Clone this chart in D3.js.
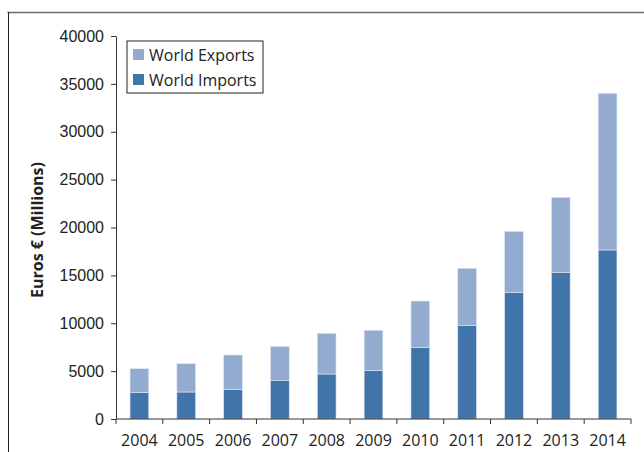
<!DOCTYPE html>
<html>
<head>
<meta charset="utf-8">
<script src="https://cdn.jsdelivr.net/npm/d3@7"></script>
<style>
  body { margin: 0; background: #fff; }
  svg { font-family: "Open Sans", Lato, sans-serif; }
</style>
</head>
<body>
<div id="chart"></div>
<script>
// chart data
const years = ["2004", "2005", "2006", "2007", "2008", "2009", "2010", "2011", "2012", "2013", "2014"];
const worldImports = [2750, 2820, 3060, 4000, 4700, 5050, 7450, 9750, 13230, 15280, 17650];
const worldTotals = [5250, 5780, 6680, 7590, 8950, 9270, 12320, 15740, 19600, 23150, 34020];
const worldExports = worldTotals.map((t, i) => t - worldImports[i]);
const yTicks = [0, 5000, 10000, 15000, 20000, 25000, 30000, 35000, 40000];
const seriesNames = ["World Exports", "World Imports"];

var W = 644, H = 452;
var margin = { top: 36, right: 13, bottom: 33, left: 116 },
    width = W - margin.left - margin.right,
    height = H - margin.top - margin.bottom;

var root = d3.select("#chart").append("svg")
    .attr("width", W)
    .attr("height", H);

// outer frame
root.append("line")
    .attr("x1", 7.5).attr("x2", W).attr("y1", 12.5).attr("y2", 12.5)
    .attr("stroke", "#6b6b6b").attr("stroke-width", 1.5);
root.append("line")
    .attr("x1", 8.5).attr("x2", 8.5).attr("y1", 12).attr("y2", H)
    .attr("stroke", "#222").attr("stroke-width", 1);

var svg = root.append("g")
    .attr("transform", `translate(${margin.left}, ${margin.top})`);

var x = d3.scaleBand()
    .domain(years)
    .range([0, width])
    .paddingInner(0.6)
    .paddingOuter(0.3);

var y = d3.scaleLinear()
    .domain([0, 40000])
    .range([height, 0]);

var color = d3.scaleOrdinal()
    .domain(seriesNames)
    .range(["#94abd0", "#4174a8"]);

var rows = years.map((yr, i) => ({
    year: yr,
    "World Imports": worldImports[i],
    "World Exports": worldExports[i]
}));
var stacked = d3.stack().keys(["World Imports", "World Exports"])(rows);

// bars
svg.append("g")
    .selectAll("g")
    .data(stacked)
    .enter().append("g")
    .attr("fill", d => color(d.key))
    .selectAll("rect")
    .data(d => d)
    .enter().append("rect")
    .attr("x", d => x(d.data.year))
    .attr("y", d => y(d[1]))
    .attr("width", x.bandwidth())
    .attr("height", d => y(d[0]) - y(d[1]))
    .attr("stroke", "#dfe6f1")
    .attr("stroke-width", 0.6);

// Y axis
var yAxis = svg.append("g")
    .call(d3.axisLeft(y).tickValues(yTicks).tickSize(5).tickSizeOuter(0).tickFormat(d3.format("d")));
yAxis.select(".domain").attr("stroke", "#333");
yAxis.selectAll(".tick line").attr("stroke", "#333");
yAxis.selectAll("text")
    .attr("x", -12)
    .style("font-size", "16px")
    .attr("fill", "#222");

// X axis, ticks between categories
var xAxis = svg.append("g")
    .attr("transform", `translate(0, ${height})`);
xAxis.append("line")
    .attr("x1", 0).attr("x2", width)
    .attr("stroke", "#333");
xAxis.selectAll(".xtick")
    .data(d3.range(years.length + 1))
    .enter().append("line")
    .attr("x1", i => i * width / years.length)
    .attr("x2", i => i * width / years.length)
    .attr("y1", 0).attr("y2", 5)
    .attr("stroke", "#333");
xAxis.selectAll(".xlabel")
    .data(years)
    .enter().append("text")
    .attr("x", d => x(d) + x.bandwidth() / 2)
    .attr("y", 27)
    .attr("text-anchor", "middle")
    .style("font-size", "16px")
    .attr("fill", "#222")
    .text(d => d);

// Y axis title
root.append("text")
    .attr("transform", `translate(43, 230) rotate(-90)`)
    .attr("text-anchor", "middle")
    .style("font-size", "16px")
    .style("font-weight", "bold")
    .attr("fill", "#222")
    .text("Euros € (Millions)");

// legend
var legend = root.append("g")
    .attr("transform", "translate(127, 41)");
legend.append("rect")
    .attr("width", 136).attr("height", 52)
    .attr("fill", "#fff")
    .attr("stroke", "#222");
var item = legend.selectAll(".legend")
    .data(seriesNames)
    .enter().append("g")
    .attr("transform", (d, i) => `translate(6, ${8 + i * 25})`);
item.append("rect")
    .attr("width", 11).attr("height", 11)
    .attr("fill", color);
item.append("text")
    .attr("x", 16)
    .attr("y", 6)
    .attr("dy", ".35em")
    .style("font-size", "16px")
    .attr("fill", "#222")
    .text(d => d);
</script>
</body>
</html>
